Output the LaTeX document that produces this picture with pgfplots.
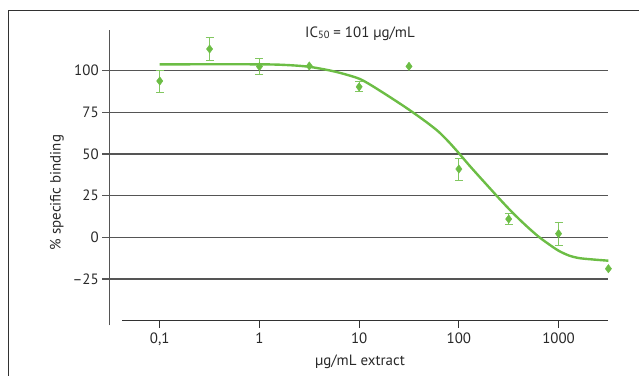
\documentclass[border=0pt]{standalone}
\usepackage{fontspec}
\setmainfont{PT Sans}
\usepackage{pgfplots}
\pgfplotsset{compat=1.18}
\definecolor{cgreen}{RGB}{108,189,69}
\definecolor{cgrid}{RGB}{85,85,85}
\definecolor{cframe}{RGB}{50,50,50}
\definecolor{ctext}{RGB}{40,40,40}
\newcommand{\fs}{\fontsize{15}{15}\selectfont}
\begin{document}
\begin{tikzpicture}
\begin{axis}[
  name=ax, at={(0,0)}, anchor=south west,
  scale only axis, width=499.2bp, height=290.7bp,
  xmode=log, xmin=0.03112, xmax=3162, ymin=-50, ymax=124.4,
  axis lines=left, axis line style={draw=none},
  xtick={0.1,1,10,100,1000}, xticklabels={{0,1},1,10,100,1000},
  xminorticks=false,
  ytick={-25,0,25,50,75,100}, yticklabels={–25,0,25,50,75,100},
  ymajorgrids, grid style={cgrid, line width=1.1bp},
  tick align=outside, major tick length=7bp,
  x tick style={cframe, line width=1.1bp},
  y tick style={cgrid, line width=1.1bp},
  tick label style={font=\fs, text=ctext},
  xticklabel style={yshift=-2bp},
  clip=false,
]
\addplot[only marks, mark=diamond*, mark size=4.2bp, cgreen,
  error bars/.cd, y dir=both, y explicit,
  error bar style={line width=1bp, cgreen!85!white},
  error mark options={rotate=90, mark size=4bp, line width=1bp, cgreen!85!white}]
  table[x=x, y=y, y error=e] {
x      y      e
0.1    93.8   6.6
0.3162 113.0  6.8
1      102.5  5.0
10     90.3   3.0
100    41.0   6.6
316.2  11.0   3.2
1000   2.2    6.8
};
\addplot[only marks, mark=diamond*, mark size=4.2bp, cgreen]
  coordinates {(3.162,102.8) (31.62,102.6) (3162,-18.8)};
\addplot[cgreen, line width=2.4bp, smooth, tension=0.5] coordinates {
(0.1,103.8) (1,103.8) (1.995,103.3) (3.162,102.3) (5.012,100.2)
(7.079,98.0) (10,95.2) (12.59,92.0) (15.85,88.3) (19.95,84.5)
(25.12,80.6) (31.62,76.6) (39.81,72.4) (50.12,68.0) (63.10,63.2)
(79.43,57.2) (100,50.5) (125.9,43.5) (158.5,36.8) (199.5,30.2)
(251.2,23.6) (316.2,17.2) (398.1,11.2) (501.2,5.6) (631.0,0.4)
(794.3,-4.0) (1000,-8.0) (1259,-10.8) (1585,-12.4) (2239,-13.3)
(3162,-14.0)};
\end{axis}
\draw[cgrid, line width=1.1bp] (0,-4.6bp) -- (0,290.7bp);
\draw[cframe, line width=1.2bp] (13.1bp,0) -- (499.2bp,0);
\draw[cframe, line width=1.2bp] (-101bp,-80bp) -- (-101bp,310bp) -- (560bp,310bp);
\node[rotate=90, font=\fs, text=ctext] at (-52.2bp,128.2bp) {\% specific binding};
\node[font=\fs, text=ctext] at (250.8bp,-41bp) {µg/mL extract};
\node[font=\fs, text=ctext, anchor=base] at (250.8bp,283.4bp) {IC\raisebox{-0.8bp}{\fontsize{10.5}{10.5}\selectfont 50} = 101 µg/mL};
\pgfresetboundingbox
\path[use as bounding box] (-109.2bp,-55.3bp) rectangle (529.8bp,320.7bp);
\end{tikzpicture}
\end{document}
